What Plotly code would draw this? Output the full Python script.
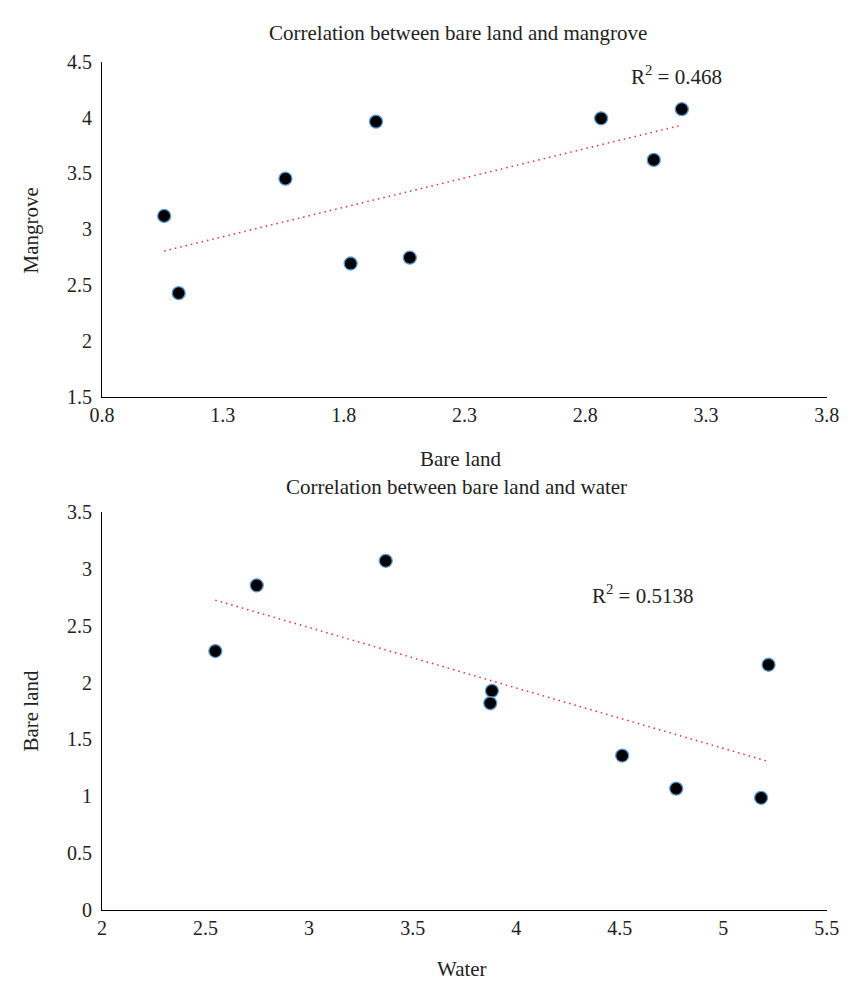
import numpy as np
import plotly.graph_objects as go

# Top chart: bare land (x) vs mangrove (y)
bare_land_top = [1.057, 1.117, 1.559, 1.934, 1.829, 2.074, 2.866, 3.200, 3.084]
mangrove = [3.12, 2.43, 3.453, 3.963, 2.695, 2.747, 3.993, 4.074, 3.621]

# Bottom chart: water (x) vs bare land (y)
water = [2.547, 2.747, 3.370, 3.883, 3.875, 4.512, 4.773, 5.183, 5.219]
bare_land_bottom = [2.278, 2.857, 3.073, 1.927, 1.818, 1.357, 1.066, 0.985, 2.157]

top_xticks = [0.8, 1.3, 1.8, 2.3, 2.8, 3.3, 3.8]
top_yticks = [1.5, 2, 2.5, 3, 3.5, 4, 4.5]
bot_xticks = [2, 2.5, 3, 3.5, 4, 4.5, 5, 5.5]
bot_yticks = [0, 0.5, 1, 1.5, 2, 2.5, 3, 3.5]

title_top = "Correlation between bare land and mangrove"
title_bot = "Correlation between bare land and water"
r2_top = "R<sup>2</sup> = 0.468"
r2_bot = "R<sup>2</sup> = 0.5138"

FONT = "Liberation Serif"
W, H = 853, 991


def trend(x, y):
    x = np.asarray(x, float)
    y = np.asarray(y, float)
    m, b = np.polyfit(x, y, 1)
    xs = np.array([x.min(), x.max()])
    return xs, m * xs + b


fig = go.Figure()

marker = dict(size=13, color="black", line=dict(color="#5b9bd5", width=1.3))
line_style = dict(color="#e0322c", width=1.5, dash="1.5px,4px")

tx, ty = trend(bare_land_top, mangrove)
fig.add_trace(go.Scatter(x=tx, y=ty, mode="lines", line=line_style,
                         xaxis="x", yaxis="y", showlegend=False, hoverinfo="skip"))
fig.add_trace(go.Scatter(x=bare_land_top, y=mangrove, mode="markers", marker=marker,
                         xaxis="x", yaxis="y", showlegend=False))

bx, by = trend(water, bare_land_bottom)
fig.add_trace(go.Scatter(x=bx, y=by, mode="lines", line=line_style,
                         xaxis="x2", yaxis="y2", showlegend=False, hoverinfo="skip"))
fig.add_trace(go.Scatter(x=water, y=bare_land_bottom, mode="markers", marker=marker,
                         xaxis="x2", yaxis="y2", showlegend=False))


def px_x(p):
    return p / W


def px_y(p):
    return 1 - p / H


xdom = [px_x(92.7), px_x(838.3)]
axis_common = dict(showgrid=False, zeroline=False, showline=True, linecolor="black",
                   linewidth=1.3, ticks="", tickfont=dict(family=FONT, size=20, color="#222"),
                   fixedrange=True)

fig.update_layout(
    width=W, height=H, autosize=False,
    margin=dict(l=0, r=0, t=0, b=0, pad=0),
    paper_bgcolor="white", plot_bgcolor="white",
    font=dict(family=FONT, color="#222"),
    xaxis=dict(domain=xdom, anchor="y", range=[0.8, 3.8], tickvals=top_xticks,
               ticktext=[str(v) for v in top_xticks], ticklabelstandoff=0, **axis_common),
    yaxis=dict(domain=[px_y(395), px_y(51.7)], anchor="x", range=[1.5, 4.5],
               tickvals=top_yticks, ticktext=[f"{v:g}" for v in top_yticks],
               ticklabelstandoff=5, **axis_common),
    xaxis2=dict(domain=xdom, anchor="y2", range=[2, 5.5], tickvals=bot_xticks,
                ticktext=[f"{v:g}" for v in bot_xticks], ticklabelstandoff=0, **axis_common),
    yaxis2=dict(domain=[px_y(919), px_y(512.7)], anchor="x2", range=[0, 3.5],
                tickvals=bot_yticks, ticktext=[f"{v:g}" for v in bot_yticks],
                ticklabelstandoff=5, **axis_common),
)

ann_font = dict(family=FONT, size=21, color="#222")
annots = [
    dict(text=title_top, x=px_x(459), y=px_y(22)),
    dict(text="Bare land", x=px_x(462), y=px_y(458)),
    dict(text=title_bot, x=px_x(457), y=px_y(487)),
    dict(text="Water", x=px_x(463), y=px_y(980)),
    dict(text=r2_top, x=px_x(684), y=px_y(66)),
    dict(text=r2_bot, x=px_x(649), y=px_y(597)),
    dict(text="Mangrove", x=px_x(20), y=px_y(224), textangle=-90),
    dict(text="Bare land", x=px_x(20), y=px_y(715), textangle=-90),
]
for a in annots:
    fig.add_annotation(xref="paper", yref="paper", showarrow=False,
                       xanchor="center", yanchor="middle", font=ann_font, **a)

fig.write_html(
    "out.html",
    config={"responsive": False, "displayModeBar": False},
    post_script="document.body.style.margin='0';document.body.style.padding='0';",
)
